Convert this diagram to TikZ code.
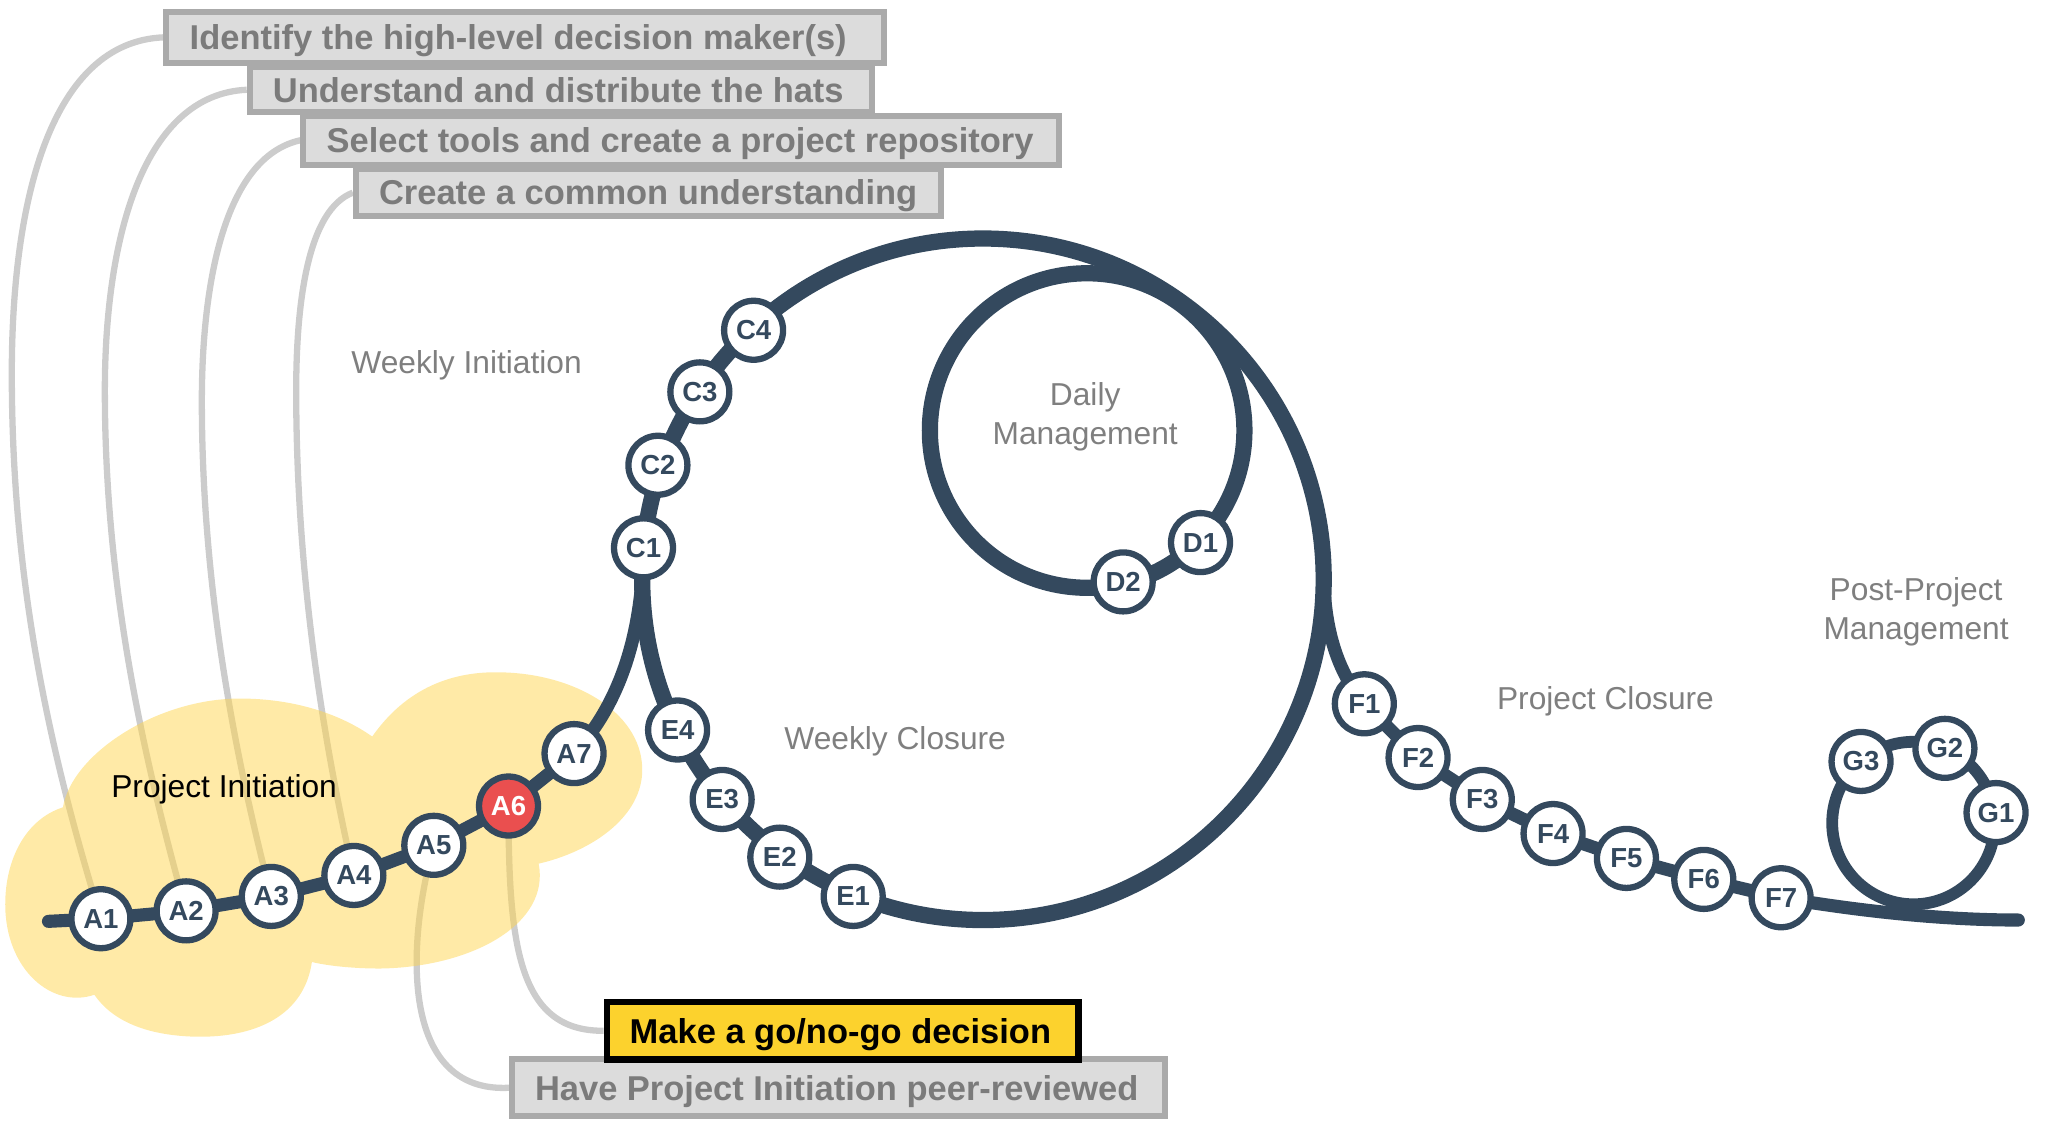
\documentclass[tikz,border=0pt]{standalone}
\usepackage{fontspec}
\setmainfont{Liberation Sans}
\definecolor{track}{HTML}{34495E}
\definecolor{conngray}{HTML}{CCCCCC}
\definecolor{boxfill}{HTML}{DCDCDC}
\definecolor{boxline}{HTML}{AAAAAA}
\definecolor{boxtext}{HTML}{7B7B7B}
\definecolor{lblgray}{HTML}{7F7F7F}
\definecolor{redstopc}{HTML}{EA4F4F}
\definecolor{goldc}{HTML}{FCD22D}
\definecolor{cloudc}{HTML}{FFD54F}
\newcommand{\bxt}[2]{\makebox[#1][l]{#2}}
\pgfdeclarelayer{links}
\pgfdeclarelayer{cloudl}
\pgfdeclarelayer{tracks}
\pgfsetlayers{links,cloudl,tracks,main}
\begin{document}
\begin{tikzpicture}[x=0.5pt,y=-0.5pt,
 stop/.style={circle, draw=track, line width=2.4pt, fill=white, minimum size=22.5pt, inner sep=0pt, text=track, font=\fontsize{10.5}{12}\selectfont\bfseries},
 redstop/.style={stop, fill=redstopc, text=white},
 task/.style={rectangle, draw=boxline, fill=boxfill, line width=2.25pt, inner xsep=8.875pt, inner ysep=0pt, text height=9.4pt, text depth=0pt, text=boxtext, font=\fontsize{13.15}{15}\selectfont\bfseries, anchor=west},
 gotask/.style={task, draw=black, fill=goldc, text=black, line width=2.5pt, inner xsep=8.75pt},
 link/.style={draw=conngray, line width=2.4pt},
 trk/.style={draw=track, line width=6.2pt},
 chain/.style={draw=track, line width=5pt},
 phase/.style={text=lblgray, font=\fontsize{12.1}{15}\selectfont, align=center},
]
\useasboundingbox (0,0) rectangle (1568,855);

% stops
\node[stop] (A1) at (77,701) {A1};
\node[stop] (A2) at (142,695) {A2};
\node[stop] (A3) at (207,684) {A3};
\node[stop] (A4) at (270,668) {A4};
\node[stop] (A5) at (331,645) {A5};
\node[redstop] (A6) at (388,615) {A6};
\node[stop] (A7) at (438,575) {A7};
\node[stop] (C1) at (491,418) {C1};
\node[stop] (C2) at (502,355) {C2};
\node[stop] (C3) at (534,299) {C3};
\node[stop] (C4) at (575,252) {C4};
\node[stop] (D1) at (916,414) {D1};
\node[stop] (D2) at (857,444) {D2};
\node[stop] (E1) at (651,684) {E1};
\node[stop] (E2) at (595,654) {E2};
\node[stop] (E3) at (551,610) {E3};
\node[stop] (E4) at (517,557) {E4};
\node[stop] (F1) at (1041,537) {F1};
\node[stop] (F2) at (1082,578) {F2};
\node[stop] (F3) at (1131,610) {F3};
\node[stop] (F4) at (1185,636) {F4};
\node[stop] (F5) at (1241,655) {F5};
\node[stop] (F6) at (1300,671) {F6};
\node[stop] (F7) at (1359,685) {F7};
\node[stop] (G1) at (1523,620) {G1};
\node[stop] (G2) at (1484,571) {G2};
\node[stop] (G3) at (1420,581) {G3};

% task boxes
\node[task, minimum height=19.25pt] (b1) at (124.75,28.5) {\bxt{256pt}{Identify the high-level decision maker(s)}};
\node[task, minimum height=17.25pt] (b2) at (188.25,68.5) {\bxt{219.5pt}{Understand and distribute the hats}};
\node[task, minimum height=18.75pt] (b3) at (229.25,107) {\bxt{270.5pt}{Select tools and create a project repository}};
\node[task, minimum height=17.75pt] (b4) at (269.25,147) {\bxt{205.5pt}{Create a common understanding}};
\node[task, minimum height=21.75pt] (b6) at (388.25,830) {\bxt{231.5pt}{Have Project Initiation peer-reviewed}};
\node[gotask, minimum height=22pt] (b5) at (460.5,786.5) {\bxt{162.5pt}{Make a go/no-go decision}};

% phase labels
\node[phase] (wi) at (356,279) {Weekly Initiation};
\node[phase] (wc) at (683,566) {Weekly Closure};
\node[phase] (dm) at (828,318) {Daily\\Management};
\node[phase] (pc) at (1225,535) {Project Closure};
\node[phase] (ppm) at (1462,467) {Post-Project\\Management};
\node[phase, text=black] (pi) at (171,602) {Project Initiation};

% grey links
\begin{pgfonlayer}{links}
\draw[link] (b1.west) .. controls (40,32) and (9,150) .. (9,285) .. controls (9,450) and (40,580) .. (A1.center);
\draw[link] (b2.west) .. controls (110,72) and (80,180) .. (80,298) .. controls (80,450) and (110,580) .. (A2.center);
\draw[link] (b3.west) .. controls (170,120) and (154,220) .. (154,306) .. controls (154,450) and (180,580) .. (A3.center);
\draw[link] (b4.west) .. controls (235,160) and (226,230) .. (226,298) .. controls (226,450) and (250,580) .. (A4.center);
\draw[link] (A5.center) .. controls (310,720) and (305,834) .. (b6.west);
\draw[link] (A6.center) .. controls (388,720) and (395,787) .. (b5.west);
\end{pgfonlayer}

% cloud
\begin{pgfonlayer}{cloudl}
\path[fill=cloudc, fill opacity=0.5] (48,616) .. controls (55,575) and (120,533) .. (183,533)
  .. controls (225,533) and (260,545) .. (284,562)
  .. controls (310,525) and (345,512) .. (382,513)
  .. controls (440,514) and (492,545) .. (490,590)
  .. controls (488,625) and (450,650) .. (411,659)
  .. controls (420,705) and (360,738) .. (290,739)
  .. controls (270,739) and (250,737) .. (238,734)
  .. controls (232,775) and (195,792) .. (149,791)
  .. controls (110,790) and (85,778) .. (72,759)
  .. controls (40,770) and (4,740) .. (4,690)
  .. controls (4,655) and (20,625) .. (48,616) -- cycle;
\end{pgfonlayer}

% tracks
\begin{pgfonlayer}{tracks}
\draw[trk] (750,442) circle[radius=260];
\draw[trk] (829.5,328.5) circle[radius=120];
\draw[draw=track, line width=4.5pt] (1460,628) circle[radius=62];
\draw[chain, line cap=round] (37,703) -- (A1.center) -- (A2.center) -- (A3.center) -- (A4.center) -- (A5.center) -- (A6.center) -- (A7.center) .. controls (470,540) and (490,490) .. (C1.center);
\draw[chain, line cap=round] (1010,442) .. controls (1011,480) and (1020,512) .. (F1.center) -- (F2.center) -- (F3.center) -- (F4.center) -- (F5.center) -- (F6.center) -- (F7.center) .. controls (1430,697) and (1490,702) .. (1540,702);
\end{pgfonlayer}
\end{tikzpicture}
\end{document}
